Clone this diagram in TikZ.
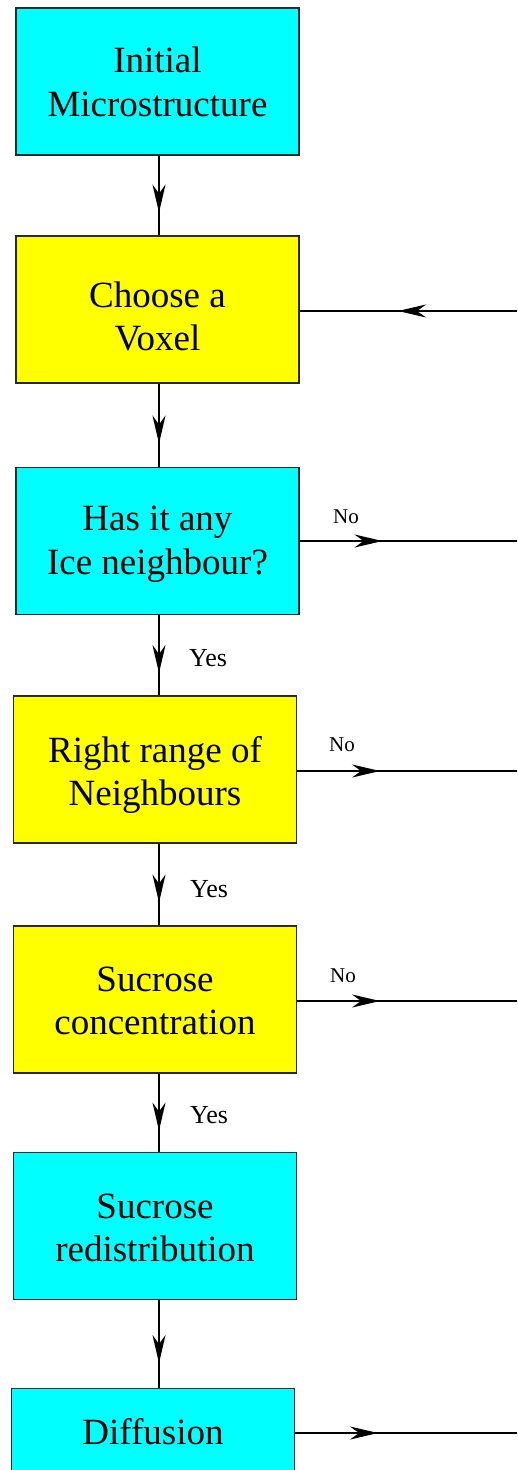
\documentclass[tikz,border=0pt]{standalone}
\usepackage{fontspec}
\setmainfont{Liberation Serif}
\usetikzlibrary{arrows.meta,decorations.markings,calc}
\definecolor{boxcyan}{RGB}{0,255,255}
\definecolor{boxyellow}{RGB}{255,255,0}
\definecolor{frame}{RGB}{40,40,40}
\tikzset{
  box/.style={draw=frame, line width=1.1pt, minimum width=283pt, minimum height=147pt,
    inner sep=0pt},
  cbox/.style={box, fill=boxcyan},
  ybox/.style={box, fill=boxyellow},
  txt/.style={inner sep=0pt, align=center, font=\fontsize{37}{43.5}\selectfont},
  conn/.style={line width=2.1pt},
  tipat/.style={postaction={decorate}, decoration={markings,
    mark=at position #1 with {\arrow{Stealth[length=28pt,width=13pt,inset=9pt]}}}},
  yeslab/.style={anchor=base west, inner sep=0pt, font=\fontsize{26}{26}\selectfont},
  nolab/.style={anchor=base west, inner sep=0pt, font=\fontsize{21}{21}\selectfont},
}
\begin{document}
\begin{tikzpicture}[x=1pt,y=-1pt]
\useasboundingbox (0,0) rectangle (517,1470);
\begin{scope}
\clip (0,0) rectangle (517,1470);
\coordinate (axis) at (159,0);
\node[cbox] (n1) at (157.5,81.5) {};
\node[ybox] (n2) at (157.5,309.5) {};
\node[cbox] (n3) at (157.5,541) {};
\node[ybox] (n4) at (155,769.5) {};
\node[ybox] (n5) at (155,999.5) {};
\node[cbox] (n6) at (155,1226) {};
\node[cbox, anchor=north] (n7) at (153,1388) {};

\node[txt] (t1) at ($(n1.center)+(0,0.5)$) {Initial\\Microstructure};
\node[txt] (t2) at ($(n2.center)+(0,7)$) {Choose a\\Voxel};
\node[txt] (t3) at ($(n3.center)+(0,3)$) {Has it any\\Ice neighbour?};
\node[txt] (t4) at ($(n4.center)+(0,5.5)$) {Right range of\\Neighbours};
\node[txt] (t5) at ($(n5.center)+(0,1.5)$) {Sucrose\\concentration};
\node[txt] (t6) at ($(n6.center)+(0,2)$) {Sucrose\\redistribution};
\node[txt, anchor=base] (t7) at (153,1444) {Diffusion};

\coordinate (r2) at (517,311);
\coordinate (r3) at (517,541);
\coordinate (r4) at (517,771);
\coordinate (r5) at (517,1001);
\coordinate (r7) at (517,1433);

% vertical connectors
\draw[conn, tipat=57pt] (axis |- n1.south) -- (axis |- n2.north);
\draw[conn, tipat=60pt] (axis |- n2.south) -- (axis |- n3.north);
\draw[conn, tipat=58pt] (axis |- n3.south) -- (axis |- n4.north);
\draw[conn, tipat=59pt] (axis |- n4.south) -- (axis |- n5.north);
\draw[conn, tipat=57pt] (axis |- n5.south) -- (axis |- n6.north);
\draw[conn, tipat=63pt] (axis |- n6.south) -- (axis |- n7.north);

% horizontal connectors
\draw[conn, tipat=119pt] (r2) -- (r2 -| n2.east);
\draw[conn, tipat=83pt] (r3 -| n3.east) -- (r3);
\draw[conn, tipat=83pt] (r4 -| n4.east) -- (r4);
\draw[conn, tipat=83pt] (r5 -| n5.east) -- (r5);
\draw[conn, tipat=83pt] (r7 -| n7.east) -- (r7);

% labels
\node[nolab] (no3) at (333,523) {No};
\node[nolab] (no4) at (329,751) {No};
\node[nolab] (no5) at (330,982) {No};
\node[yeslab] (y3) at (189,666) {Yes};
\node[yeslab] (y4) at (190,897) {Yes};
\node[yeslab] (y5) at (190,1123) {Yes};
\end{scope}
\end{tikzpicture}
\end{document}
